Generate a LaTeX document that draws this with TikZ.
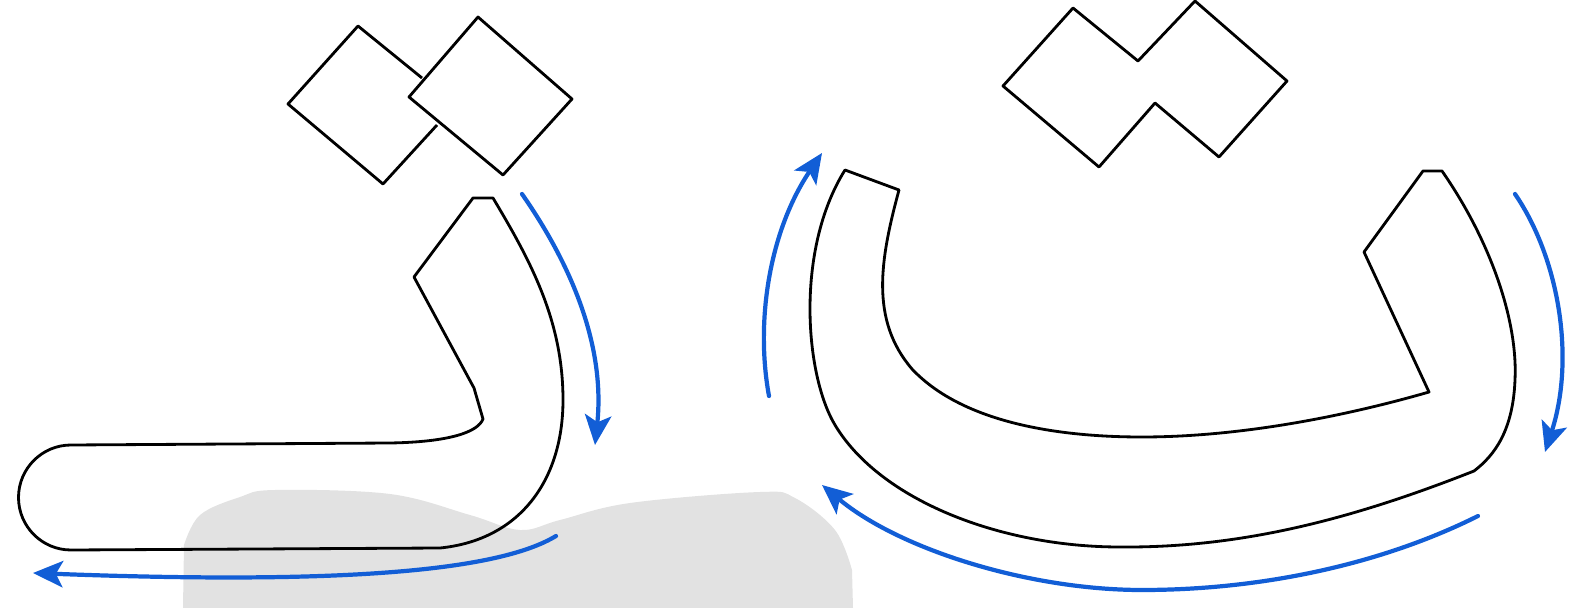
\documentclass[tikz,border=0pt]{standalone}
\usetikzlibrary{arrows.meta}
\definecolor{arrowblue}{RGB}{18,94,214}
\definecolor{shadowgray}{RGB}{226,226,226}
\tikzset{
  outline/.style={draw=black, line width=1.6pt, line join=round},
  dirarrow/.style={draw=arrowblue, line width=2.4pt, line cap=round,
    -{Stealth[length=17pt,width=15pt,inset=4pt]}},
  shadow/.style={fill=shadowgray, draw=none}
}
\begin{document}
\begin{tikzpicture}[x=0.02cm, y=-0.02cm]
\useasboundingbox (0,0) rectangle (1580,608);
% grey shadow
\fill[shadow] (183,608) -- plot[smooth, tension=0.6] coordinates {(184,545) (200,515) (240,497) (275,490) (390,494) (470,515) (520,530) (560,520) (630,503) (760,492) (795,498) (835,530) (852,570)} -- (853,608) -- cycle;

% ---------- left letter (final form) ----------
% dots
\draw[outline] (422,78) -- (358,26) -- (288,104) -- (383,184) -- (437,125);
\draw[outline] (478,17) -- (572,99) -- (503,175) -- (409,97) -- cycle;
% body
\draw[outline] (473,198) -- (493,198)
  .. controls (530,260) and (563,320) .. (563,400)
  .. controls (563,480) and (520,540) .. (440,548)
  -- (71,550) arc[start angle=90, end angle=270, radius=52.5]
  -- (390,443) .. controls (450,442) and (478,432) .. (483,419)
  -- (474,388) -- (414,277) -- cycle;
% arrows
\draw[dirarrow] (522,194) .. controls (575,270) and (605,350) .. (595,445);
\draw[dirarrow] (556,536) .. controls (500,570) and (350,585) .. (33,573);

% ---------- right letter (isolated form) ----------
% dots
\draw[outline] (1073,8) -- (1003,86) -- (1099,167) -- (1155,103) -- (1219,157) -- (1287,81) -- (1195,1) -- (1138,61) -- cycle;
% body
\draw[outline] (845,170) -- (899,190)
  .. controls (880,260) and (870,320) .. (912,369)
  .. controls (960,420) and (1050,437) .. (1142,437)
  .. controls (1250,437) and (1360,412) .. (1429,392)
  -- (1364,252) -- (1423,171) -- (1442,171)
  .. controls (1490,240) and (1518,320) .. (1515,380)
  .. controls (1513,430) and (1495,455) .. (1474,471)
  .. controls (1350,520) and (1240,548) .. (1120,547)
  .. controls (1000,547) and (880,500) .. (835,425)
  .. controls (805,375) and (795,250) .. (845,170)
  -- cycle;
% arrows
\draw[dirarrow] (769,396) .. controls (755,320) and (770,230) .. (822,153);
\draw[dirarrow] (1478,516) .. controls (1380,565) and (1260,590) .. (1142,590)
  .. controls (1030,590) and (900,550) .. (822,485);
\draw[dirarrow] (1515,194) .. controls (1560,260) and (1575,360) .. (1545,452);
\end{tikzpicture}
\end{document}
